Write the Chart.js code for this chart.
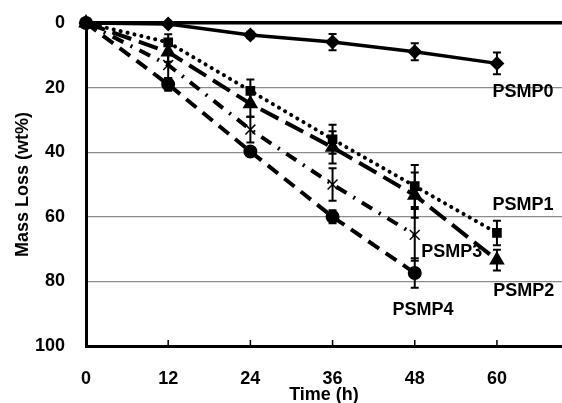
<!DOCTYPE html>
<html>
<head>
<meta charset="utf-8">
<script src="https://cdn.jsdelivr.net/npm/chart.js@4"></script>
<style>
  html, body { margin: 0; padding: 0; background: #fff; overflow: hidden; }
  #box { width: 562px; height: 403px; }
</style>
</head>
<body>
<div id="box"><canvas id="myChart"></canvas></div>
<script>
// tempos de amostragem (h)
var tempos = [0, 12, 24, 36, 48, 60];

// perda de massa (wt%) e desvios
var psmp0 = [0, 0.3, 3.7, 5.9, 8.9, 12.5];
var psmp0Err = [0, 0, 1, 2.5, 2.6, 3.4];
var psmp1 = [0, 6, 21, 36, 50.5, 65];
var psmp1Err = [0, 2.5, 3.5, 4.5, 6.5, 3.8];
var psmp2 = [0, 9, 25, 38.5, 53.3, 73.4];
var psmp2Err = [0, 3, 4, 5, 7, 3.2];
var psmp3 = [0, 13, 33, 50, 65.6];
var psmp3Err = [0, 4, 4, 5, 8];
var psmp4 = [0, 19, 39.8, 60, 77.4];
var psmp4Err = [0, 2, 1, 2, 4.6];

var nomes = ['PSMP0', 'PSMP1', 'PSMP2', 'PSMP3', 'PSMP4'];
var ticksY = [0, 20, 40, 60, 80, 100];

var fonte = 'Liberation Sans, Arial, sans-serif';

function pontos(valores) {
    return valores.map(function (v, i) { return { x: tempos[i], y: v }; });
}

// onde fica o nome de cada curva (em unidades dos eixos)
var rotulos = [
    { texto: nomes[0], x: 63.8, y: 21.4 },
    { texto: nomes[1], x: 63.8, y: 56.3 },
    { texto: nomes[2], x: 63.9, y: 83.0 },
    { texto: nomes[3], x: 53.4, y: 71.0 },
    { texto: nomes[4], x: 49.2, y: 89.0 }
];

var erros = [psmp0Err, psmp1Err, psmp2Err, psmp3Err, psmp4Err];

var pluginErros = {
    id: 'barrasErro',
    afterDatasetsDraw: function (chart) {
        var ctx = chart.ctx;
        var sx = chart.scales.x, sy = chart.scales.y;
        ctx.save();
        ctx.strokeStyle = '#000';
        ctx.lineWidth = 2;
        chart.data.datasets.forEach(function (ds, d) {
            ds.data.forEach(function (p, i) {
                var e = erros[d][i];
                if (!e) return;
                var px = sx.getPixelForValue(p.x);
                var y1 = sy.getPixelForValue(p.y - e);
                var y2 = sy.getPixelForValue(p.y + e);
                ctx.beginPath();
                ctx.moveTo(px, y1); ctx.lineTo(px, y2);
                ctx.moveTo(px - 4, y1); ctx.lineTo(px + 4, y1);
                ctx.moveTo(px - 4, y2); ctx.lineTo(px + 4, y2);
                ctx.stroke();
            });
        });
        ctx.restore();
    },
    afterDraw: function (chart) {
        var ctx = chart.ctx;
        var sx = chart.scales.x, sy = chart.scales.y;
        var a = chart.chartArea;
        ctx.save();
        // marcas do eixo x para dentro
        ctx.strokeStyle = '#000';
        ctx.lineWidth = 1.5;
        tempos.forEach(function (t) {
            if (t === 0) return;
            var px = sx.getPixelForValue(t);
            ctx.beginPath();
            ctx.moveTo(px, a.bottom);
            ctx.lineTo(px, a.bottom - 6);
            ctx.stroke();
        });
        // nomes das curvas
        ctx.fillStyle = '#000';
        ctx.font = 'bold 18px ' + fonte;
        ctx.textAlign = 'center';
        ctx.textBaseline = 'middle';
        rotulos.forEach(function (r) {
            ctx.fillText(r.texto, sx.getPixelForValue(r.x), sy.getPixelForValue(r.y));
        });
        ctx.restore();
    }
};

var ctx = document.getElementById('myChart');

var grafico = new Chart(ctx, {
    type: 'line',
    data: {
        datasets: [{
            label: nomes[0],
            data: pontos(psmp0),
            borderColor: '#000',
            backgroundColor: '#000',
            borderWidth: 3.5,
            pointStyle: 'rectRot',
            pointRadius: 5,
            clip: false
        }, {
            label: nomes[1],
            data: pontos(psmp1),
            borderColor: '#000',
            backgroundColor: '#000',
            borderWidth: 4,
            borderDash: [0.1, 7],
            borderCapStyle: 'round',
            pointStyle: 'rect',
            pointRadius: 4,
            clip: false
        }, {
            label: nomes[2],
            data: pontos(psmp2),
            borderColor: '#000',
            backgroundColor: '#000',
            borderWidth: 4,
            borderDash: [20, 8],
            pointStyle: 'triangle',
            pointRadius: 5,
            clip: false
        }, {
            label: nomes[3],
            data: pontos(psmp3),
            borderColor: '#000',
            backgroundColor: '#000',
            borderWidth: 4,
            borderDash: [12, 8, 2, 8],
            pointStyle: 'crossRot',
            pointRadius: 7,
            pointBorderWidth: 1.5,
            clip: false
        }, {
            label: nomes[4],
            data: pontos(psmp4),
            borderColor: '#000',
            backgroundColor: '#000',
            borderWidth: 4,
            borderDash: [13, 8],
            pointStyle: 'circle',
            pointRadius: 5,
            clip: false
        }]
    },
    options: {
        responsive: true,
        maintainAspectRatio: false,
        animation: false,
        layout: { autoPadding: false, padding: { top: 23, left: 0, right: 0, bottom: 0 } },
        plugins: {
            legend: { display: false },
            tooltip: { enabled: false }
        },
        scales: {
            x: {
                type: 'linear',
                min: 0,
                max: 69.5,
                afterBuildTicks: function (axis) {
                    axis.ticks = tempos.map(function (v) { return { value: v }; });
                },
                afterFit: function (scale) {
                    scale.height = 57;
                    scale.paddingLeft = 0;
                    scale.paddingRight = 0;
                },
                border: { color: '#000', width: 3 },
                grid: { drawOnChartArea: false, drawTicks: false },
                ticks: {
                    color: '#000',
                    padding: 22,
                    font: { family: fonte, size: 18, weight: 'bold' }
                },
                title: {
                    display: true,
                    text: 'Time (h)',
                    color: '#000',
                    padding: { top: -3, bottom: -3 },
                    font: { family: fonte, size: 18, weight: 'bold' }
                }
            },
            y: {
                reverse: true,
                min: 0,
                max: 100,
                afterBuildTicks: function (axis) {
                    axis.ticks = ticksY.map(function (v) { return { value: v }; });
                },
                afterFit: function (scale) {
                    scale.width = 86;
                    scale.paddingTop = 0;
                    scale.paddingBottom = 0;
                },
                border: { color: '#000', width: 3 },
                grid: {
                    drawTicks: false,
                    color: function (c) { return c.tick && c.tick.value === 0 ? '#000' : '#8c8c8c'; },
                    lineWidth: function (c) { return c.tick && c.tick.value === 0 ? 3.5 : 1.2; }
                },
                ticks: {
                    color: '#000',
                    padding: 21,
                    font: { family: fonte, size: 18, weight: 'bold' }
                },
                title: {
                    display: true,
                    text: 'Mass Loss (wt%)',
                    color: '#000',
                    padding: { top: 12, bottom: 0 },
                    font: { family: fonte, size: 18, weight: 'bold' }
                }
            }
        }
    },
    plugins: [pluginErros]
});
</script>
</body>
</html>
